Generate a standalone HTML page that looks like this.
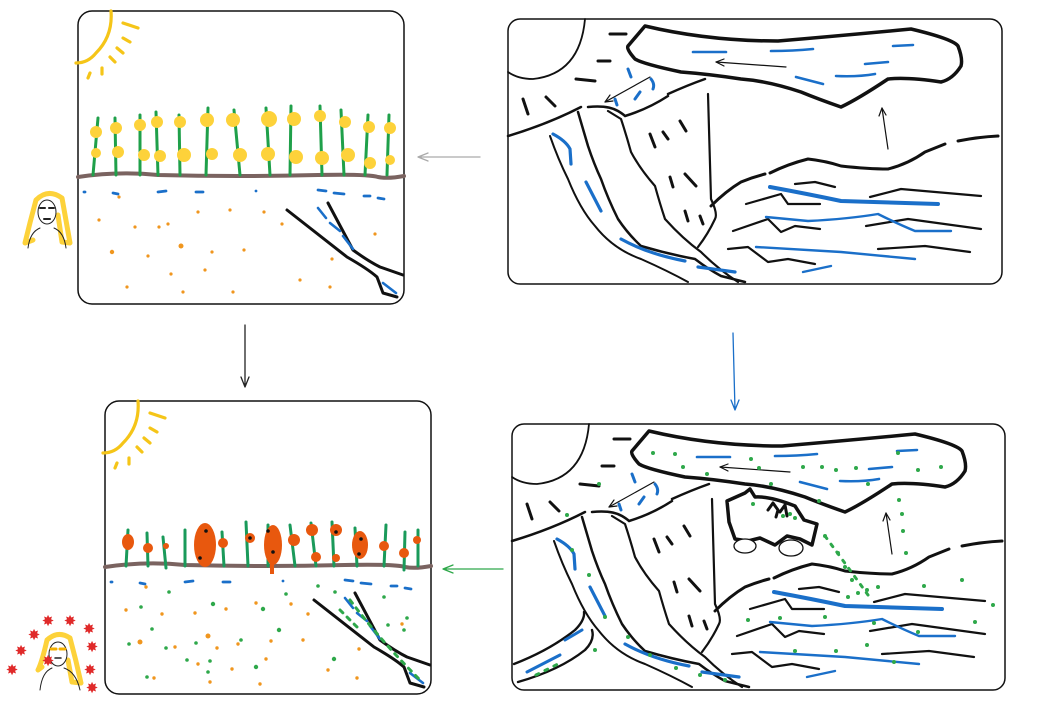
<!DOCTYPE html>
<html><head><meta charset="utf-8"><style>html,body{margin:0;padding:0;background:#fff}svg{display:block}</style></head>
<body>
<svg width="1049" height="713" viewBox="0 0 1049 713" xmlns="http://www.w3.org/2000/svg" fill="none" stroke-linecap="round" stroke-linejoin="round">
<defs>
<g id="land">
  <path d="M77,0 Q72,55 25,60 Q10,60 0,53" stroke="#111" stroke-width="1.8"/>
  <path d="M137,7 Q200,22 270,22 Q340,16 403,10 Q445,20 450,27 Q455,40 453,47 Q445,60 433,63 Q400,58 380,60 Q350,80 333,88 Q310,80 293,73 Q260,62 233,60 Q200,55 173,53 Q135,45 127,40 Q118,30 120,27 Z" stroke="#111" stroke-width="3.5"/>
  <path d="M102,15 L118,15 M90,42 L102,42 M68,60 L87,62 M15,80 L20,95 M38,78 L47,87" stroke="#111" stroke-width="3"/>
  <path d="M0,117 Q40,105 73,88 M80,88 Q100,86 110,92 Q115,95 117,97 M117,97 Q140,90 160,77 M160,75 Q180,66 197,60" stroke="#111" stroke-width="2.5"/>
  <path d="M120,50 L123,58 M143,60 Q147,65 145,70 M107,80 L109,86 M127,80 L132,73" stroke="#1a6fc9" stroke-width="3"/>
  <path d="M142,58 L97,83" stroke="#111" stroke-width="1.2"/><path d="M97,83 L105,82 M97,83 L102,76" stroke="#111" stroke-width="1.2"/>
  <path d="M42,117 Q50,140 60,160 Q72,190 87,207 Q105,230 133,240 Q160,252 180,263" stroke="#111" stroke-width="2"/>
  <path d="M70,93 Q75,110 80,127 Q86,145 93,160 Q100,180 110,200 Q120,215 133,227 Q160,235 187,240 Q200,250 213,257 L237,263" stroke="#111" stroke-width="2.5"/>
  <path d="M100,92 L113,100 Q118,115 123,133 Q132,150 147,167 Q152,185 157,200 Q175,220 193,233 Q210,250 230,263" stroke="#111" stroke-width="2.2"/>
  <path d="M200,75 L203,180 Q210,195 207,200 Q200,215 190,228" stroke="#111" stroke-width="2.2"/>
  <path d="M203,187 Q218,172 233,163 Q245,158 257,155 M262,154 Q280,145 300,140 Q318,142 333,147 Q360,150 380,150 Q400,145 417,133 L437,125 M450,122 Q470,118 490,117" stroke="#111" stroke-width="3"/>
  <path d="M142,115 L147,128 M155,113 L160,120 M172,102 L178,112 M162,158 L165,168 M177,155 L188,167 M177,192 L180,202 M192,197 L195,205" stroke="#111" stroke-width="3"/>
  <path d="M45,115 Q58,122 62,130 L63,145 M78,163 L93,192 M113,220 Q140,235 177,242 M190,248 L227,253" stroke="#1a6fc9" stroke-width="3.2"/>
  <path d="M185,33 L218,33 M263,32 Q285,32 305,30 M385,27 L405,26 M357,45 L380,43 M288,58 L315,65 M328,57 Q350,58 367,55" stroke="#1a6fc9" stroke-width="2.6"/>
  <path d="M278,48 L208,43" stroke="#111" stroke-width="1.2"/><path d="M208,43 L216,40 M208,43 L216,47" stroke="#111" stroke-width="1.2"/>
  <path d="M380,130 L374,89" stroke="#111" stroke-width="1.2"/><path d="M374,89 L371,97 M374,89 L378,96" stroke="#111" stroke-width="1.2"/>
  <path d="M238,185 L273,175 L280,185 L312,185 M287,165 L307,163 L327,168 M362,178 L393,170 L473,177 M225,212 L260,200 L273,213 L287,207 L312,210 M358,207 L400,200 L473,210 M220,230 L240,228 L260,243 L280,240 L307,245 M370,230 L417,227 L462,233" stroke="#111" stroke-width="2.2"/>
  <path d="M262,168 Q300,175 333,182 L430,185" stroke="#1a6fc9" stroke-width="4"/>
  <path d="M258,198 L300,202 Q340,200 370,195 Q390,205 407,212 L443,212 M248,228 L333,233 L407,240 M295,253 L323,247" stroke="#1a6fc9" stroke-width="2.4"/>
</g>
<g id="field">
  <path d="M33,0 Q35,25 18,42 Q10,52 -2,52 M45,12 L60,17 M45,27 L52,31 M39,37 L45,42 M32,46 L37,51 M24,57 L24,63 M12,62 L10,67" stroke="#f5c518" stroke-width="3.2"/>
  <path d="M0,166 Q40,160 80,164 Q160,166 240,164 Q290,163 300,166 Q310,168 326,165" stroke="#7a6360" stroke-width="4"/>
  <path d="M209,199 L269,246 Q290,258 299,266 L305,282 L319,286 M250,192 L275,239 Q290,250 302,256 L325,264" stroke="#111" stroke-width="3"/>
  <path d="M240,197 L248,207 M252,212 L262,220 M265,225 L275,238 M305,272 L318,282" stroke="#1a6fc9" stroke-width="2.6"/>
  <path d="M6,181 L7,181 M35,182 L40,183 M80,181 L88,180 M118,181 L125,181 M178,180 L178,180 M240,179 L248,180 M256,182 L266,183 M286,185 L292,185 M300,187 L306,188" stroke="#1a6fc9" stroke-width="2.8"/>
</g>
</defs>

<!-- TL panel -->
<rect x="78" y="11" width="326" height="293" rx="14" stroke="#111" stroke-width="1.5" fill="#fff"/>
<use href="#field" x="78" y="11"/>
<g stroke="#1fa04a" stroke-width="3">
<path d="M98,118 L93,175 M115,118 L116,175 M140,115 L140,175 M156,112 L158,175 M179,115 L180,175 M208,108 L206,175 M234,110 L240,175 M266,108 L270,175 M291,106 L290,175 M320,106 L322,175 M341,110 L344,175 M368,115 L365,175 M389,115 L387,175"/>
</g>
<g fill="#fdd23a">
<circle cx="96" cy="132" r="6"/><circle cx="96" cy="153" r="5"/><circle cx="116" cy="128" r="6"/><circle cx="118" cy="152" r="6"/><circle cx="140" cy="125" r="6"/><circle cx="144" cy="155" r="6"/><circle cx="157" cy="122" r="6"/><circle cx="160" cy="156" r="6"/><circle cx="180" cy="122" r="6"/><circle cx="184" cy="155" r="7"/><circle cx="207" cy="120" r="7"/><circle cx="212" cy="154" r="6"/><circle cx="233" cy="120" r="7"/><circle cx="240" cy="155" r="7"/><circle cx="269" cy="119" r="8"/><circle cx="268" cy="154" r="7"/><circle cx="294" cy="119" r="7"/><circle cx="296" cy="157" r="7"/><circle cx="320" cy="116" r="6"/><circle cx="322" cy="158" r="7"/><circle cx="345" cy="122" r="6"/><circle cx="348" cy="155" r="7"/><circle cx="369" cy="127" r="6"/><circle cx="370" cy="163" r="6"/><circle cx="390" cy="128" r="6"/><circle cx="390" cy="160" r="5"/>
</g>
<g fill="#f0961e">
<circle cx="119" cy="197" r="1.6"/><circle cx="99" cy="220" r="1.6"/><circle cx="135" cy="227" r="1.6"/><circle cx="168" cy="224" r="1.6"/><circle cx="198" cy="212" r="1.6"/><circle cx="230" cy="210" r="1.6"/><circle cx="264" cy="212" r="1.6"/><circle cx="112" cy="252" r="2.2"/><circle cx="148" cy="256" r="1.6"/><circle cx="181" cy="246" r="2.5"/><circle cx="212" cy="252" r="1.6"/><circle cx="244" cy="250" r="1.6"/><circle cx="171" cy="274" r="1.6"/><circle cx="205" cy="270" r="1.6"/><circle cx="300" cy="280" r="1.6"/><circle cx="127" cy="287" r="1.6"/><circle cx="183" cy="292" r="1.6"/><circle cx="233" cy="292" r="1.6"/><circle cx="330" cy="287" r="1.6"/><circle cx="332" cy="259" r="1.6"/><circle cx="375" cy="234" r="1.6"/><circle cx="282" cy="224" r="1.6"/><circle cx="159" cy="227" r="1.6"/>
</g>

<!-- BL panel -->
<rect x="105" y="401" width="326" height="293" rx="14" stroke="#111" stroke-width="1.5" fill="#fff"/>
<use href="#field" x="105" y="401"/>
<g stroke="#1a9a5a" stroke-width="3">
<path d="M128,530 L126,566 M147,533 L148,566 M163,537 L166,568 M185,530 L185,566 M222,532 L224,566 M246,522 L248,566 M268,525 L268,566 M290,525 L295,566 M311,523 L316,566 M332,522 L334,566 M355,528 L357,566 M386,525 L384,566 M405,532 L404,570 M418,530 L418,566"/>
</g>
<g fill="#e8580e">
<ellipse cx="128" cy="542" rx="6" ry="8"/><circle cx="148" cy="548" r="5"/><circle cx="166" cy="546" r="3"/><ellipse cx="205" cy="545" rx="11" ry="22"/><circle cx="223" cy="543" r="5"/><circle cx="250" cy="538" r="5"/><ellipse cx="273" cy="545" rx="9" ry="20"/><rect x="270" y="560" width="4" height="14"/><circle cx="294" cy="540" r="6"/><circle cx="312" cy="530" r="6"/><circle cx="316" cy="557" r="5"/><circle cx="336" cy="530" r="6"/><circle cx="336" cy="558" r="4"/><ellipse cx="360" cy="545" rx="8" ry="14"/><circle cx="384" cy="546" r="5"/><circle cx="404" cy="553" r="5"/><circle cx="417" cy="540" r="4"/>
</g>
<g fill="#111"><circle cx="206" cy="531" r="1.8"/><circle cx="200" cy="558" r="1.8"/><circle cx="250" cy="538" r="1.8"/><circle cx="268" cy="531" r="1.8"/><circle cx="273" cy="552" r="1.8"/><circle cx="336" cy="532" r="1.8"/><circle cx="361" cy="539" r="1.8"/><circle cx="359" cy="554" r="1.8"/></g>
<g fill="#f0961e">
<circle cx="146" cy="587" r="1.7"/><circle cx="126" cy="610" r="1.7"/><circle cx="162" cy="614" r="1.7"/><circle cx="195" cy="613" r="1.7"/><circle cx="226" cy="609" r="1.7"/><circle cx="256" cy="603" r="1.7"/><circle cx="291" cy="604" r="1.7"/><circle cx="308" cy="614" r="1.7"/><circle cx="140" cy="642" r="2.5"/><circle cx="175" cy="647" r="1.7"/><circle cx="208" cy="636" r="2.5"/><circle cx="217" cy="648" r="1.7"/><circle cx="238" cy="644" r="1.7"/><circle cx="271" cy="641" r="1.7"/><circle cx="303" cy="640" r="1.7"/><circle cx="198" cy="664" r="1.7"/><circle cx="232" cy="669" r="1.7"/><circle cx="266" cy="659" r="1.7"/><circle cx="154" cy="678" r="1.7"/><circle cx="210" cy="682" r="1.7"/><circle cx="260" cy="684" r="1.7"/><circle cx="328" cy="670" r="1.7"/><circle cx="357" cy="678" r="1.7"/><circle cx="402" cy="624" r="1.7"/><circle cx="359" cy="649" r="1.7"/>
</g>
<g fill="#2ea84a">
<circle cx="169" cy="592" r="1.8"/><circle cx="141" cy="607" r="1.8"/><circle cx="213" cy="604" r="2.2"/><circle cx="263" cy="609" r="2.2"/><circle cx="286" cy="594" r="1.8"/><circle cx="318" cy="586" r="1.8"/><circle cx="152" cy="629" r="1.8"/><circle cx="196" cy="643" r="1.8"/><circle cx="241" cy="640" r="1.8"/><circle cx="279" cy="630" r="2.2"/><circle cx="129" cy="644" r="1.8"/><circle cx="166" cy="648" r="1.8"/><circle cx="187" cy="660" r="1.8"/><circle cx="210" cy="661" r="1.8"/><circle cx="208" cy="672" r="1.8"/><circle cx="256" cy="667" r="2.2"/><circle cx="147" cy="677" r="1.8"/><circle cx="334" cy="659" r="2.2"/><circle cx="384" cy="597" r="1.8"/><circle cx="388" cy="625" r="1.8"/><circle cx="404" cy="630" r="1.8"/><circle cx="407" cy="618" r="1.8"/><circle cx="335" cy="592" r="1.8"/>
</g>
<path d="M350,600 Q380,640 420,680 M340,610 L360,630" stroke="#2ea84a" stroke-width="3" stroke-dasharray="4 6"/>

<!-- TR panel -->
<rect x="508" y="19" width="494" height="265" rx="12" stroke="#111" stroke-width="1.5" fill="#fff"/>
<use href="#land" x="508" y="19"/>

<!-- BR panel -->
<rect x="512" y="424" width="493" height="266" rx="12" stroke="#111" stroke-width="1.5" fill="#fff"/>
<use href="#land" x="512" y="424"/>
<path d="M514,664 Q550,650 575,630 Q585,620 584,612 M518,682 Q560,670 585,650 Q595,640 592,630" stroke="#111" stroke-width="2.4"/>
<path d="M527,672 L560,655 M565,640 L582,630" stroke="#1a6fc9" stroke-width="3"/>
<g fill="#2ea84a">
<circle cx="653" cy="453" r="2"/><circle cx="675" cy="454" r="2"/><circle cx="683" cy="467" r="2"/><circle cx="707" cy="474" r="2"/><circle cx="751" cy="459" r="2"/><circle cx="759" cy="468" r="2"/><circle cx="771" cy="484" r="2"/><circle cx="803" cy="467" r="2"/><circle cx="822" cy="467" r="2"/><circle cx="836" cy="470" r="2"/><circle cx="856" cy="468" r="2"/><circle cx="898" cy="453" r="2"/><circle cx="918" cy="470" r="2"/><circle cx="941" cy="467" r="2"/><circle cx="868" cy="484" r="2"/><circle cx="819" cy="501" r="2"/><circle cx="599" cy="484" r="2"/><circle cx="567" cy="515" r="2"/><circle cx="572" cy="550" r="2"/><circle cx="589" cy="575" r="2"/><circle cx="605" cy="617" r="2"/><circle cx="628" cy="637" r="2"/><circle cx="650" cy="655" r="2"/><circle cx="676" cy="668" r="2"/><circle cx="700" cy="675" r="2"/><circle cx="725" cy="680" r="2"/>
<circle cx="825" cy="536" r="2"/><circle cx="838" cy="553" r="2"/><circle cx="845" cy="567" r="2"/><circle cx="852" cy="580" r="2"/><circle cx="858" cy="593" r="2"/><circle cx="848" cy="597" r="2"/><circle cx="867" cy="590" r="2"/><circle cx="878" cy="587" r="2"/><circle cx="899" cy="500" r="2"/><circle cx="902" cy="514" r="2"/><circle cx="903" cy="531" r="2"/><circle cx="906" cy="553" r="2"/><circle cx="924" cy="586" r="2"/><circle cx="962" cy="580" r="2"/><circle cx="993" cy="605" r="2"/><circle cx="975" cy="622" r="2"/><circle cx="748" cy="620" r="2"/><circle cx="780" cy="618" r="2"/><circle cx="825" cy="617" r="2"/><circle cx="874" cy="623" r="2"/><circle cx="795" cy="651" r="2"/><circle cx="836" cy="651" r="2"/><circle cx="867" cy="645" r="2"/><circle cx="894" cy="662" r="2"/><circle cx="918" cy="632" r="2"/><circle cx="595" cy="650" r="2"/>
</g>
<path d="M825,536 Q850,570 868,595 M536,675 L560,663 M745,503 Q760,508 770,510" stroke="#2ea84a" stroke-width="3" stroke-dasharray="3 7"/>
<path d="M727,501 L745,493 L750,489 L755,497 Q770,496 795,506 L804,520 L817,524 L812,545 L800,539 L787,536 L775,545 L760,538 L748,541 L735,539 L729,522 Z" stroke="#111" stroke-width="3.5" fill="#fff"/>
<path d="M768,510 L773,503 L778,510 L776,517 M780,512 L785,505 L787,516" stroke="#111" stroke-width="3"/>
<circle cx="753" cy="504" r="2" fill="#2ea84a"/><circle cx="783" cy="516" r="2" fill="#2ea84a"/><circle cx="790" cy="514" r="2" fill="#2ea84a"/><circle cx="795" cy="518" r="2" fill="#2ea84a"/>
<ellipse cx="745" cy="546" rx="11" ry="7" stroke="#111" stroke-width="1.3" fill="#fff"/>
<ellipse cx="791" cy="548" rx="12" ry="8" stroke="#111" stroke-width="1.3" fill="#fff"/>

<!-- connectors -->
<path d="M480,157 L418,157 M418,157 L428,153 M418,157 L428,161" stroke="#aaa" stroke-width="1.3"/>
<path d="M245,325 L245,387 M245,387 L241,377 M245,387 L249,377" stroke="#222" stroke-width="1.3"/>
<path d="M733,333 L735,410 M735,410 L731,400 M735,410 L739,400" stroke="#1a6fc9" stroke-width="1.3"/>
<path d="M503,569 L443,569 M443,569 L453,565 M443,569 L453,573" stroke="#2ea84a" stroke-width="1.3"/>

<!-- person 1 -->
<g>
<path d="M36,200 Q48,188 62,198 Q66,220 70,243 L62,242 L58,215 M36,200 Q30,222 25,243 L33,240" stroke="#fdd23a" stroke-width="5" fill="none"/>
<ellipse cx="47" cy="212" rx="9" ry="12" stroke="#222" stroke-width="1" fill="#fff"/>
<path d="M40,208 L45,208 M49,208 L54,208 M44,219 L50,219" stroke="#222" stroke-width="2"/>
<path d="M28,248 Q30,232 40,228 M66,248 Q64,232 54,228" stroke="#222" stroke-width="1"/>
</g>
<!-- person 2 -->
<g>
<path d="M47,640 Q58,630 70,638 Q76,660 81,683 L72,682 L68,660 M47,640 Q42,662 38,670 L42,667" stroke="#fdd23a" stroke-width="5" fill="none"/>
<ellipse cx="58" cy="654" rx="9" ry="12" stroke="#222" stroke-width="1" fill="#fff"/>
<path d="M51,649 L56,649 M60,649 L65,649" stroke="#f5b000" stroke-width="3"/>
<path d="M55,658 L61,658" stroke="#222" stroke-width="1.5"/>
<path d="M40,690 Q42,672 52,668 M80,690 Q76,672 64,668" stroke="#222" stroke-width="1"/>
<g fill="#e02a2a" font-family="DejaVu Sans, sans-serif" font-size="15" text-anchor="middle">
<text x="48" y="666">✸</text><text x="34" y="640">✸</text><text x="48" y="626">✸</text><text x="70" y="626">✸</text><text x="89" y="634">✸</text><text x="92" y="652">✸</text><text x="90" y="675">✸</text><text x="92" y="693">✸</text><text x="21" y="656">✸</text><text x="12" y="675">✸</text>
</g>
</g>
</svg>
</body></html>
